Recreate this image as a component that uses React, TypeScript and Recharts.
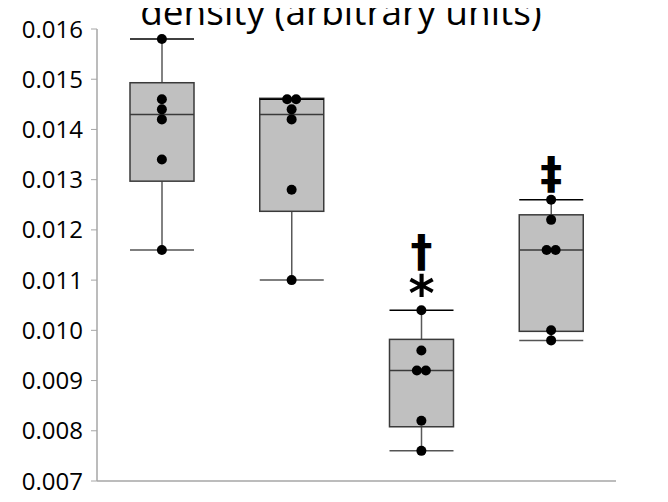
import { ComposedChart, Bar, Scatter, XAxis, YAxis } from 'recharts';

// four groups, no category labels shown on the axis
const groups = ['G1', 'G2', 'G3', 'G4'];

const minVals = [0.0116, 0.011, 0.0076, 0.0098];
const q1Vals = [0.01297, 0.01237, 0.00808, 0.00998];
const medianVals = [0.0143, 0.0143, 0.0092, 0.0116];
const q3Vals = [0.01493, 0.01462, 0.00982, 0.0123];
const maxVals = [0.0158, 0.0146, 0.0104, 0.0126];

// individual observations per group
const pointsG1 = [0.0158, 0.0146, 0.0144, 0.0142, 0.0134, 0.0116];
const pointsG2 = [0.0146, 0.0146, 0.0144, 0.0142, 0.0128, 0.011];
const pointsG3 = [0.0104, 0.0096, 0.0092, 0.0092, 0.0082, 0.0076];
const pointsG4 = [0.0126, 0.0122, 0.0116, 0.0116, 0.01, 0.0098];

// significance marks above each box, top line first
const marks = [[], [], ['†', '*'], ['‡']];

const yTicks = [0.007, 0.008, 0.009, 0.01, 0.011, 0.012, 0.013, 0.014, 0.015, 0.016];

const TITLE = 'density (arbitrary units)';
const FONT = '"Open Sans", "Segoe UI", sans-serif';
const AXIS_GREY = '#a6a6a6';

// glyph sizing for the marks (the asterisk glyph sits small and high)
const markStyle: Record<string, { size: number; weight: string; dy: number }> = {
  '*': { size: 50, weight: 'bold', dy: 0.55 },
  '†': { size: 44, weight: 'bold', dy: 0.33 },
  '‡': { size: 44, weight: 'bold', dy: 0.36 },
};

const boxRows = groups.map((g, i) => ({
  group: g,
  min: minVals[i],
  q1: q1Vals[i],
  median: medianVals[i],
  q3: q3Vals[i],
  max: maxVals[i],
  marks: marks[i],
}));

// flatten points, giving tied values a slot so they sit side by side
const pointRows = [pointsG1, pointsG2, pointsG3, pointsG4].flatMap((vals, gi) =>
  vals.map((v, j) => {
    const ties = vals.filter((w) => w === v).length;
    const rank = vals.slice(0, j).filter((w) => w === v).length;
    return { group: groups[gi], value: v, slot: rank - (ties - 1) / 2 };
  })
);

function BoxShape(props: any) {
  const { x, y, width, height, payload } = props;
  if (!payload) return null;
  const top = Math.min(y, y + height);
  const h = Math.abs(height);
  const span = payload.max - payload.min;
  const py = (v: number) => (span === 0 ? top : top + (h * (payload.max - v)) / span);
  const cx = x + width / 2;
  const yMax = py(payload.max);

  return (
    <g>
      <line x1={cx} x2={cx} y1={yMax} y2={py(payload.q3)} stroke="#595959" strokeWidth={1.5} />
      <line x1={cx} x2={cx} y1={py(payload.q1)} y2={py(payload.min)} stroke="#595959" strokeWidth={1.5} />
      <rect
        x={x}
        y={py(payload.q3)}
        width={width}
        height={py(payload.q1) - py(payload.q3)}
        fill="#c0c0c0"
        stroke="#3a3a3a"
        strokeWidth={1.5}
      />
      <line x1={x} x2={x + width} y1={py(payload.median)} y2={py(payload.median)} stroke="#3a3a3a" strokeWidth={1.5} />
      <line x1={x} x2={x + width} y1={yMax} y2={yMax} stroke="#000" strokeWidth={1.5} />
      <line x1={x} x2={x + width} y1={py(payload.min)} y2={py(payload.min)} stroke="#555" strokeWidth={1.5} />
      {payload.marks.map((m: string, k: number) => {
        const fromBottom = payload.marks.length - 1 - k;
        const st = markStyle[m];
        return (
          <text
            key={k}
            x={cx}
            y={yMax - 27 - fromBottom * 31}
            dy={`${st.dy}em`}
            textAnchor="middle"
            fontFamily="DejaVu Sans, sans-serif"
            fontWeight={st.weight}
            fontSize={st.size}
            fill="#000"
          >
            {m}
          </text>
        );
      })}
    </g>
  );
}

function Dot(props: any) {
  const { cx, cy, payload } = props;
  if (cx == null || cy == null) return null;
  return <circle cx={cx + payload.slot * 9} cy={cy} r={5} fill="#000" />;
}

export default function App() {
  return (
    <div style={{ position: 'relative', width: 652, height: 494 }}>
      <ComposedChart
        width={652}
        height={494}
        data={boxRows}
        margin={{ top: 21, right: 44, bottom: 20, left: 0 }}
      >
        <XAxis
          dataKey="group"
          type="category"
          allowDuplicatedCategory={false}
          height={1}
          tick={false}
          tickLine={false}
          axisLine={{ stroke: AXIS_GREY, strokeWidth: 1.5 }}
        />
        <YAxis
          width={89}
          type="number"
          domain={[0.007, 0.016]}
          ticks={yTicks}
          interval={0}
          tickFormatter={(v: number) => v.toFixed(3)}
          tickSize={6}
          tickMargin={8}
          axisLine={{ stroke: AXIS_GREY, strokeWidth: 1.5 }}
          tickLine={{ stroke: AXIS_GREY }}
          tick={{ fill: '#000', fontSize: 24, fontFamily: FONT }}
        />
        <Bar
          dataKey={(d: any) => [d.min, d.max]}
          barSize={64}
          shape={BoxShape}
          isAnimationActive={false}
        />
        <Scatter data={pointRows} dataKey="value" shape={Dot} isAnimationActive={false} />
      </ComposedChart>
      <svg
        width={668}
        height={502}
        style={{ position: 'absolute', top: -8, left: -8, pointerEvents: 'none' }}
      >
        <text x={341} y={25} textAnchor="middle" fontFamily={FONT} fontSize={37} fill="#000">
          {TITLE}
        </text>
      </svg>
    </div>
  );
}
